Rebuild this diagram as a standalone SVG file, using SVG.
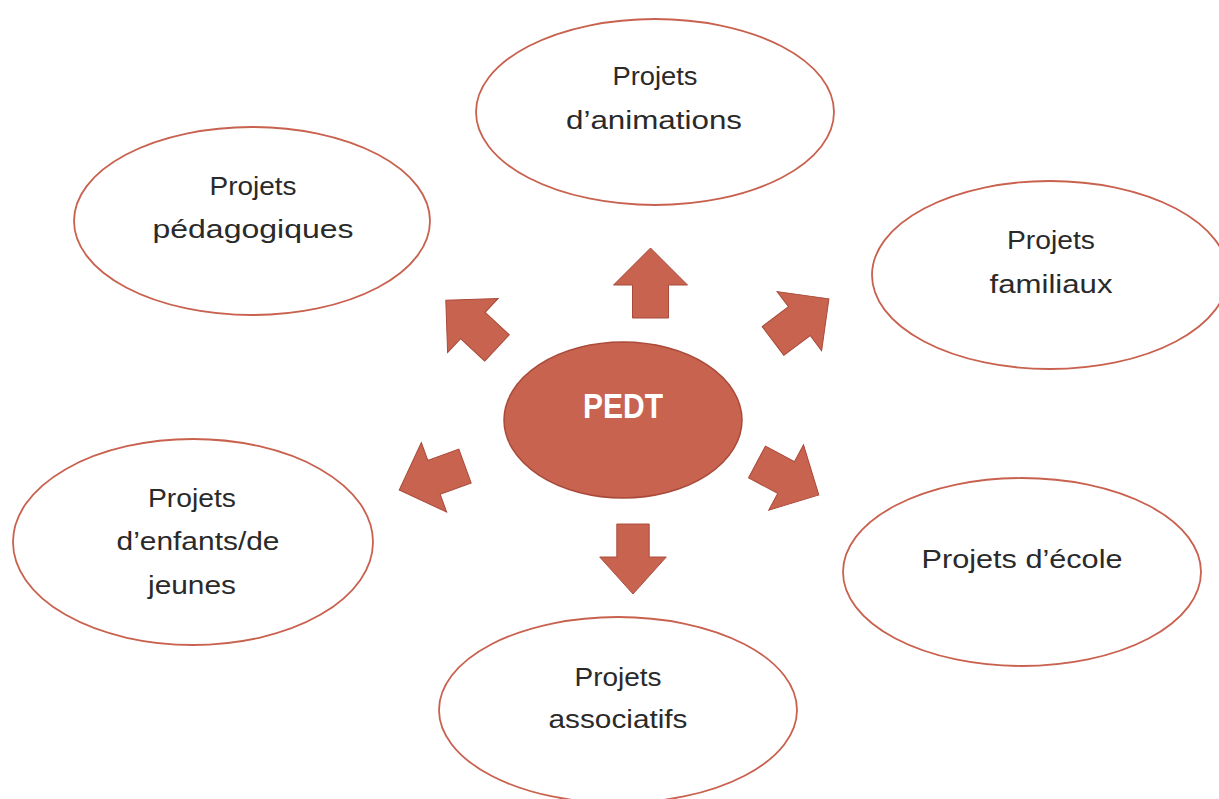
<svg xmlns="http://www.w3.org/2000/svg" width="1219" height="799" viewBox="0 0 1219 799">
  <defs>
    <style>
      .node ellipse { fill: #ffffff; stroke: #c9614f; stroke-width: 1.8; }
      .node text { font-family: "Liberation Sans", "DejaVu Sans", sans-serif; font-size: 25px; fill: #2a2a2a; text-anchor: middle; }
      .center ellipse { fill: #c8634f; stroke: #a94a3a; stroke-width: 1.5; }
      .center text { font-family: "Liberation Sans", sans-serif; font-weight: bold; font-size: 35px; fill: #ffffff; text-anchor: middle; }
      .arrow { fill: #c8634f; stroke: #a94a3a; stroke-width: 1; }
    </style>
    <path id="arr" d="M0,-18 L33,-18 L33,-37 L70,0 L33,37 L33,18 L0,18 Z"/>
  </defs>
  <rect width="1219" height="799" fill="#ffffff"/>

  <g id="connectors">
    <use href="#arr" class="arrow" transform="translate(650.5,318) rotate(-90)"/>
    <use href="#arr" class="arrow" transform="translate(633,524) rotate(90) scale(1,0.9)"/>
    <use href="#arr" class="arrow" transform="translate(497,348) rotate(-137)"/>
    <use href="#arr" class="arrow" transform="translate(773,341) rotate(-37)"/>
    <use href="#arr" class="arrow" transform="translate(465,466) rotate(160)"/>
    <use href="#arr" class="arrow" transform="translate(757,462) rotate(28)"/>
  </g>

  <g id="node-animations" class="node">
    <ellipse cx="655" cy="112" rx="179" ry="93"/>
    <text x="655" y="85" textLength="85" lengthAdjust="spacingAndGlyphs">Projets</text>
    <text x="654" y="129" textLength="176" lengthAdjust="spacingAndGlyphs">d’animations</text>
  </g>

  <g id="node-pedagogiques" class="node">
    <ellipse cx="252" cy="221" rx="178" ry="94"/>
    <text x="253" y="195" textLength="87" lengthAdjust="spacingAndGlyphs">Projets</text>
    <text x="253" y="238" textLength="201" lengthAdjust="spacingAndGlyphs">pédagogiques</text>
  </g>

  <g id="node-familiaux" class="node">
    <ellipse cx="1050" cy="275" rx="178" ry="94"/>
    <text x="1051" y="249" textLength="88" lengthAdjust="spacingAndGlyphs">Projets</text>
    <text x="1051" y="293" textLength="123" lengthAdjust="spacingAndGlyphs">familiaux</text>
  </g>

  <g id="node-ecole" class="node">
    <ellipse cx="1022" cy="572" rx="179" ry="94"/>
    <text x="1022" y="568" textLength="201" lengthAdjust="spacingAndGlyphs">Projets d’école</text>
  </g>

  <g id="node-enfants" class="node">
    <ellipse cx="193" cy="542" rx="180" ry="103"/>
    <text x="192" y="507" textLength="88" lengthAdjust="spacingAndGlyphs">Projets</text>
    <text x="198" y="550" textLength="163" lengthAdjust="spacingAndGlyphs">d’enfants/de</text>
    <text x="192" y="594" textLength="88" lengthAdjust="spacingAndGlyphs">jeunes</text>
  </g>

  <g id="node-associatifs" class="node">
    <ellipse cx="618" cy="710" rx="179" ry="93"/>
    <text x="618" y="686" textLength="87" lengthAdjust="spacingAndGlyphs">Projets</text>
    <text x="618" y="728" textLength="139" lengthAdjust="spacingAndGlyphs">associatifs</text>
  </g>

  <g id="node-pedt" class="center">
    <ellipse cx="623" cy="420" rx="119" ry="78"/>
    <text x="623" y="418" textLength="80" lengthAdjust="spacingAndGlyphs">PEDT</text>
  </g>
</svg>
